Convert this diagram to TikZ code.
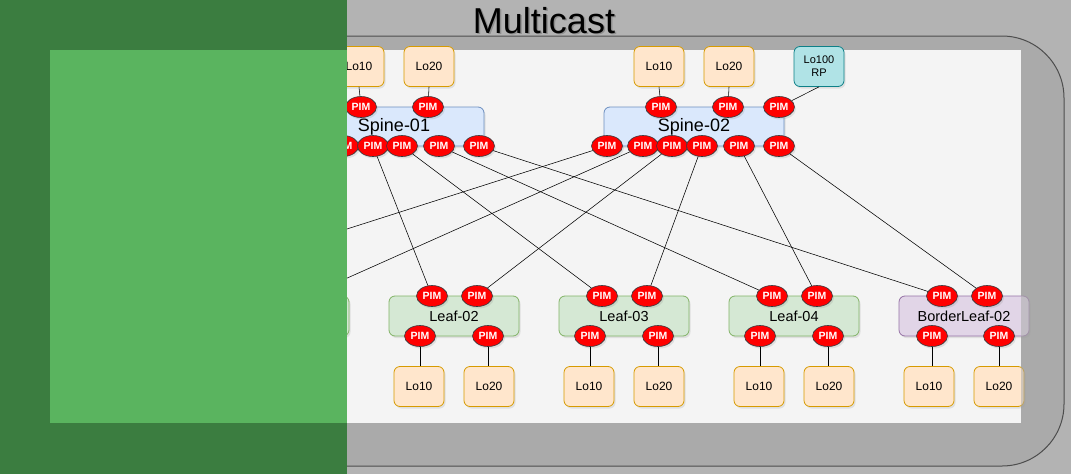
\documentclass[tikz,border=0pt]{standalone}
\usepackage{fontspec}
\setmainfont{Liberation Sans}
\usetikzlibrary{shapes.geometric,shadows}
\definecolor{outerGray}{HTML}{B3B3B3}
\definecolor{frameGray}{HTML}{AAAAAA}
\definecolor{frameLine}{HTML}{4D4D4D}
\definecolor{panel}{HTML}{F4F4F4}
\definecolor{darkGreen}{RGB}{59,125,64}
\definecolor{lightGreen}{RGB}{90,180,95}
\definecolor{spineFill}{HTML}{DAE8FC}
\definecolor{spineLine}{HTML}{6C8EBF}
\definecolor{leafFill}{HTML}{D5E8D4}
\definecolor{leafLine}{HTML}{82B366}
\definecolor{blFill}{HTML}{E1D5E7}
\definecolor{blLine}{HTML}{9673A6}
\definecolor{loFill}{HTML}{FFE6CC}
\definecolor{loLine}{HTML}{D79B00}
\definecolor{rpFill}{HTML}{B0E3E6}
\definecolor{rpLine}{HTML}{0E8088}
\definecolor{pimLine}{HTML}{36393D}
\begin{document}
\begin{tikzpicture}[x=1pt,y=-1pt,
  softshadow/.style={drop shadow={opacity=0.18,shadow xshift=1.5pt,shadow yshift=-2pt}},
  box/.style={rounded corners=6pt,inner sep=0pt,line width=0.8pt,softshadow},
  spinebox/.style={box,draw=spineLine,fill=spineFill,minimum width=180pt,minimum height=39pt,font=\fontsize{18}{20}\selectfont},
  leafbox/.style={box,draw=leafLine,fill=leafFill,minimum width=130pt,minimum height=40pt,font=\fontsize{14.5}{16}\selectfont},
  blbox/.style={leafbox,draw=blLine,fill=blFill},
  lobox/.style={box,draw=loLine,fill=loFill,minimum width=50pt,minimum height=40pt,font=\fontsize{12}{14}\selectfont},
  rpbox/.style={lobox,draw=rpLine,fill=rpFill,font=\fontsize{11}{13}\selectfont,align=center},
  pim/.style={ellipse,draw=pimLine,fill=red,minimum width=31pt,minimum height=21pt,inner sep=0pt,line width=0.6pt,text=white,font=\fontsize{10.5}{11}\selectfont\bfseries,softshadow},
  link/.style={draw=black,line width=0.55pt},
  stub/.style={draw=black,line width=0.9pt}
]
\useasboundingbox (0,0) rectangle (1071,474);
% backgrounds
\fill[outerGray] (0,0) rectangle (1071,474);
\draw[frameLine,fill=frameGray,line width=1pt,rounded corners=62pt] (10,36) rectangle (1064,466);
\fill[panel] (50,50) rectangle (1021,423);
% title
\node[gray!60!black,opacity=0.35,anchor=base,font=\fontsize{36}{40}\selectfont] (titleshadow) at (545.5,34.5) {Multicast};
\node[anchor=base,font=\fontsize{36}{40}\selectfont] (title) at (544,33) {Multicast};

% spines
\node[spinebox] (sp1) at (394,126.5) {Spine-01};
\node[spinebox] (sp2) at (694,126.5) {Spine-02};
% loopbacks on spines
\node[lobox] (sp1lo10) at (359,66.5) {Lo10};
\node[lobox] (sp1lo20) at (429,66.5) {Lo20};
\node[lobox] (sp2lo10) at (659,66.5) {Lo10};
\node[lobox] (sp2lo20) at (729,66.5) {Lo20};
\node[rpbox] (rp) at (819,66.5) {Lo100\\RP};

% leaves
\node[leafbox] (lf1) at (284,316) {Leaf-01};
\node[leafbox] (lf2) at (454,316) {Leaf-02};
\node[leafbox] (lf3) at (624,316) {Leaf-03};
\node[leafbox] (lf4) at (794,316) {Leaf-04};
\node[blbox] (bl2) at (964,316) {BorderLeaf-02};

% leaf loopbacks
\node[lobox] (lf2lo10) at (419,386.5) {Lo10};
\node[lobox] (lf2lo20) at (489,386.5) {Lo20};
\node[lobox] (lf3lo10) at (589,386.5) {Lo10};
\node[lobox] (lf3lo20) at (659,386.5) {Lo20};
\node[lobox] (lf4lo10) at (759,386.5) {Lo10};
\node[lobox] (lf4lo20) at (829,386.5) {Lo20};
\node[lobox] (bl2lo10) at (929,386.5) {Lo10};
\node[lobox] (bl2lo20) at (999,386.5) {Lo20};

% PIMs spine tops
\node[pim] (s1t1) at (361,107) {PIM};
\node[pim] (s1t2) at (428,107) {PIM};
\node[pim] (s2t1) at (661,107) {PIM};
\node[pim] (s2t2) at (728,107) {PIM};
\node[pim] (s2t3) at (779,107) {PIM};
% PIMs spine bottoms
\coordinate (s1b0) at (307,146);
\node[pim] (s1b1) at (343,146) {PIM};
\node[pim] (s1b2) at (373,146) {PIM};
\node[pim] (s1b3) at (402,146) {PIM};
\node[pim] (s1b4) at (439,146) {PIM};
\node[pim] (s1b5) at (479,146) {PIM};
\node[pim] (s2b0) at (607,146) {PIM};
\node[pim] (s2b1) at (643,146) {PIM};
\node[pim] (s2b2) at (672,146) {PIM};
\node[pim] (s2b3) at (702,146) {PIM};
\node[pim] (s2b4) at (739,146) {PIM};
\node[pim] (s2b5) at (779,146) {PIM};
% PIMs leaf tops
\coordinate (b1t2) at (137,296);
\coordinate (l1t1) at (262,296);
\coordinate (l1t2) at (307,296);
\node[pim] (l2t1) at (432,296) {PIM};
\node[pim] (l2t2) at (477,296) {PIM};
\node[pim] (l3t1) at (602,296) {PIM};
\node[pim] (l3t2) at (647,296) {PIM};
\node[pim] (l4t1) at (772,296) {PIM};
\node[pim] (l4t2) at (817,296) {PIM};
\node[pim] (bt1) at (942,296) {PIM};
\node[pim] (bt2) at (987,296) {PIM};
% PIMs leaf bottoms
\node[pim] (l2b1) at (420,336) {PIM};
\node[pim] (l2b2) at (488,336) {PIM};
\node[pim] (l3b1) at (590,336) {PIM};
\node[pim] (l3b2) at (658,336) {PIM};
\node[pim] (l4b1) at (760,336) {PIM};
\node[pim] (l4b2) at (828,336) {PIM};
\node[pim] (bb1) at (932,336) {PIM};
\node[pim] (bb2) at (999,336) {PIM};

% loopback to PIM links (spines)
\draw[link] (sp1lo10.south) -- (s1t1);
\draw[link] (sp1lo20.south) -- (s1t2);
\draw[link] (sp2lo10.south) -- (s2t1);
\draw[link] (sp2lo20.south) -- (s2t2);
\draw[link] (rp.south) -- (s2t3);

% spine to leaf links
\draw[link] (s1b1) -- (l1t1);
\draw[link] (s1b2) -- (l2t1);
\draw[link] (s1b3) -- (l3t1);
\draw[link] (s1b4) -- (l4t1);
\draw[link] (s1b5) -- (bt1);
\draw[link] (s2b0) -- (b1t2);
\draw[link] (s2b1) -- (l1t2);
\draw[link] (s2b2) -- (l2t2);
\draw[link] (s2b3) -- (l3t2);
\draw[link] (s2b4) -- (l4t2);
\draw[link] (s2b5) -- (bt2);

% leaf PIM to loopbacks
\draw[stub] (l2b1.south) -- (l2b1.south |- lf2lo10.north);
\draw[stub] (l2b2.south) -- (l2b2.south |- lf2lo20.north);
\draw[stub] (l3b1.south) -- (l3b1.south |- lf3lo10.north);
\draw[stub] (l3b2.south) -- (l3b2.south |- lf3lo20.north);
\draw[stub] (l4b1.south) -- (l4b1.south |- lf4lo10.north);
\draw[stub] (l4b2.south) -- (l4b2.south |- lf4lo20.north);
\draw[stub] (bb1.south) -- (bb1.south |- bl2lo10.north);
\draw[stub] (bb2.south) -- (bb2.south |- bl2lo20.north);

% translucent frame over the parts sticking out of the panel
\fill[frameGray,opacity=0.55] (1021,50) rectangle (1040,423);

% green overlays
\fill[darkGreen] (0,0) rectangle (346.5,474);
\fill[lightGreen] (50,50) rectangle (346.5,423);
\end{tikzpicture}
\end{document}
